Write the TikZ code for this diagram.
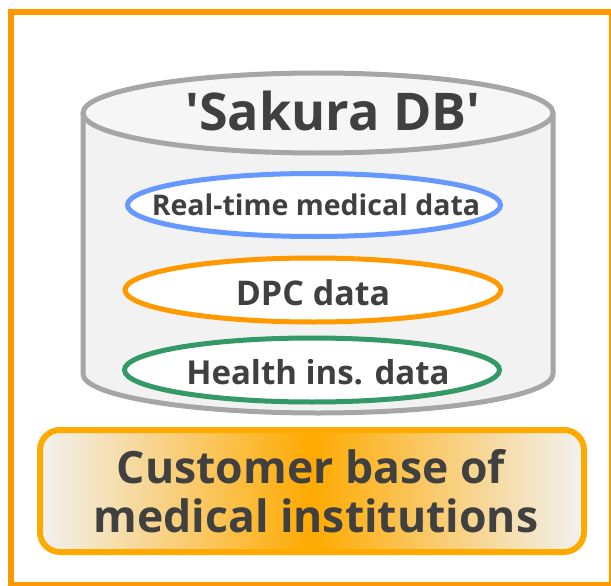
\documentclass[tikz,border=0pt]{standalone}
\usepackage{fontspec}
\setmainfont{Open Sans}
\usepackage{xcolor}
\usetikzlibrary{shapes.geometric}
\definecolor{frameorange}{HTML}{FF9900}
\definecolor{boxorange}{HTML}{FFAA00}
\definecolor{dbgray}{HTML}{A6A6A6}
\definecolor{dbbody}{HTML}{F2F2F2}
\definecolor{dbtop}{HTML}{F6F6F6}
\definecolor{textgray}{HTML}{404040}
\definecolor{ringblue}{HTML}{6699FF}
\definecolor{ringorange}{HTML}{FF9900}
\definecolor{ringgreen}{HTML}{339966}

\begin{document}
\begin{tikzpicture}[x=1pt,y=-1pt]
            \tikzset{
                db_line/.style={draw=dbgray, line width=5pt},
                data_ring/.style={draw, shape = ellipse, line width=5pt, fill=white, inner sep=0pt},
                label_text/.style={text=textgray, anchor=base, inner sep=0pt, font=\bfseries\fontsize{#1}{#1}\selectfont},
                base_box/.style={draw=boxorange, line width=6pt, rounded corners=20pt, shape = rectangle,
                    left color=dbbody, right color=dbbody, middle color=boxorange}
            }
            \useasboundingbox (0,0) rectangle (611,586);
            \draw[frameorange, line width=6pt] (11,12) rectangle (612,585);
            % database cylinder
            \fill[dbbody] (83,113) -- (83,374) arc[start angle=180, end angle=0, x radius=235, y radius=39] -- (553,113) -- cycle;
            \draw[db_line] (83,113) -- (83,374) arc[start angle=180, end angle=0, x radius=235, y radius=39] -- (553,113);
            \draw[db_line, fill=dbtop] (318,113) ellipse [x radius=235, y radius=40];
            \node[label_text=52] (dbname) at (333,130) {\textquotesingle Sakura DB\textquotesingle};
            \node[data_ring, draw=ringblue, minimum width=373pt, minimum height=63pt] (rt) at (314,205) {};
            \node[data_ring, draw=ringorange, minimum width=376pt, minimum height=64pt] (dpc) at (313,290) {};
            \node[data_ring, draw=ringgreen, minimum width=375pt, minimum height=64pt] (hi) at (312,370) {};
            \node[label_text=28.5] (rttext) at (316,215) {Real-time medical data};
            \node[label_text=34] (dpctext) at (313,305) {DPC data};
            \node[label_text=33] (hitext) at (318,384) {Health ins. data};
            % customer base
            \node[base_box, minimum width=544pt, minimum height=122pt] (base) at (312,491) {};
            \node[label_text=44.5] (basea) at (311,483) {Customer base of};
            \node[label_text=44.5] (baseb) at (316,532) {medical institutions};
        \end{tikzpicture}
\end{document}
